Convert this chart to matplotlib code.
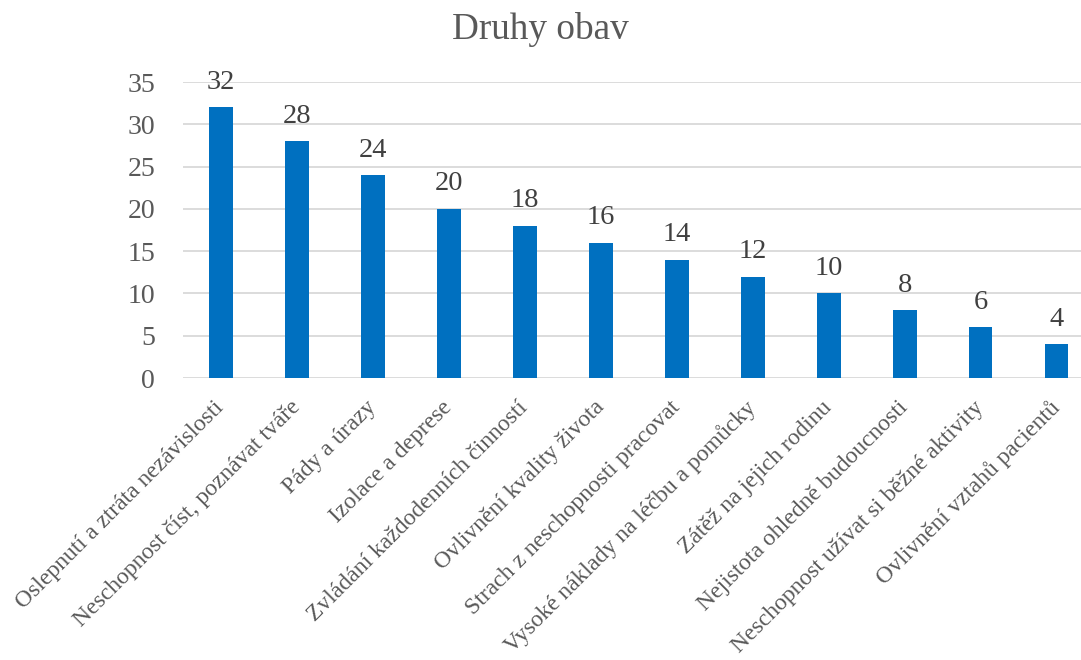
import matplotlib.pyplot as plt

# Druhy obav - pocty odpovedi
categories = [
    "Oslepnutí a ztráta nezávislosti",
    "Neschopnost číst, poznávat tváře",
    "Pády a úrazy",
    "Izolace a deprese",
    "Zvládání každodenních činností",
    "Ovlivnění kvality života",
    "Strach z neschopnosti pracovat",
    "Vysoké náklady na léčbu a pomůcky",
    "Zátěž na jejich rodinu",
    "Nejistota ohledně budoucnosti",
    "Neschopnost užívat si běžné aktivity",
    "Ovlivnění vztahů pacientů",
]
values = [32, 28, 24, 20, 18, 16, 14, 12, 10, 8, 6, 4]
y_ticks = [0, 5, 10, 15, 20, 25, 30, 35]

plt.rcParams['font.family'] = ['Liberation Serif', 'DejaVu Serif']
text_color = "#595959"
grid_color = "#D9D9D9"
bar_color = "#0070C0"

fig = plt.figure(figsize=(10.81, 6.6), dpi=100)
ax = fig.add_axes([183 / 1081, 282 / 660, 898 / 1081, 296 / 660])

x = range(len(categories))
bars = ax.bar(x, values, width=0.31, color=bar_color, zorder=3)
ax.bar_label(bars, padding=9, fontsize=20.5, color="#404040")

ax.set_xlim(-0.5, 11.32)
ax.set_ylim(0, 35)
ax.set_yticks(y_ticks)
ax.yaxis.grid(True, color=grid_color, linewidth=1.3, zorder=0)
ax.set_axisbelow(True)

ax.set_xticks(list(x))
ax.set_xticklabels(categories, rotation=45, ha="right", va="center",
                   rotation_mode="anchor", fontsize=17, color=text_color)
ax.tick_params(axis="y", labelsize=20, colors=text_color, length=0, pad=20)
ax.tick_params(axis="x", length=0, pad=19)

for side in ["top", "right", "left", "bottom"]:
    ax.spines[side].set_visible(False)

fig.text(0.5, 0.955, "Druhy obav", ha="center", va="center",
         fontsize=26.8, color=text_color)

fig.savefig("out.png", dpi=100)
